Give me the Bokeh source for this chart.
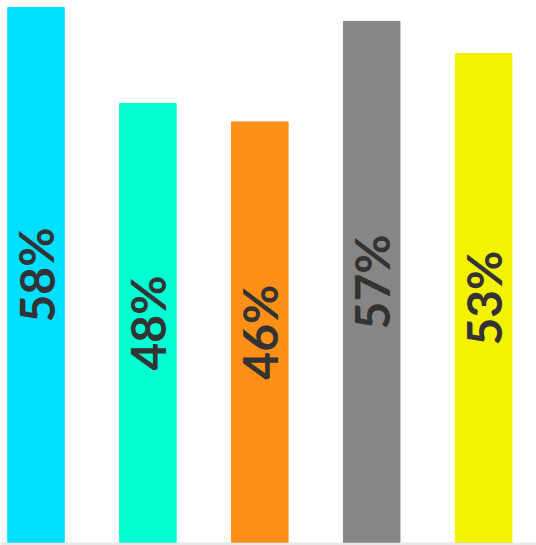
from bokeh.plotting import figure
from bokeh.models import ColumnDataSource, Range1d, Span
from bokeh.embed import file_html
from bokeh.resources import INLINE
from bokeh.core.properties import value

# data
categories = ["A", "B", "C", "D", "E"]
values = [58.0, 47.6, 45.6, 56.5, 53.0]
labels = ["58%", "48%", "46%", "57%", "53%"]
colors = ["#00DFFF", "#00FFD2", "#FF9017", "#868686", "#F5F200"]

x = list(range(len(categories)))
src = ColumnDataSource(dict(
    x=x, top=values, lab=labels, color=colors,
    mid=[v / 2 for v in values],
))

W, H = 536, 545
px_per_cat = 111.9
cx0 = 35.5
ppu = 535 / 58.0
p = figure(width=W, height=H, output_backend="svg", toolbar_location=None,
           min_border=0,
           x_range=Range1d(-cx0 / px_per_cat, (W - cx0) / px_per_cat),
           y_range=Range1d(-(H - 542) / ppu, 58.0 + 7 / ppu))
p.axis.visible = False
p.grid.visible = False
p.outline_line_color = None
p.background_fill_color = "white"

p.vbar(x="x", top="top", bottom=0, width=56.5 / px_per_cat, color="color", source=src)
p.text(x="x", y="mid", text="lab", angle=1.5708, text_align="center",
       text_baseline="middle", text_color="#333333", text_font_size="48px",
       text_font_style="bold", text_font=value("Lato"), source=src)

p.add_layout(Span(location=-1.5 / ppu, dimension="width",
                  line_color="#d9d9d9", line_alpha=0.6, line_width=3))

open("out.html", "w").write(file_html(p, INLINE))
